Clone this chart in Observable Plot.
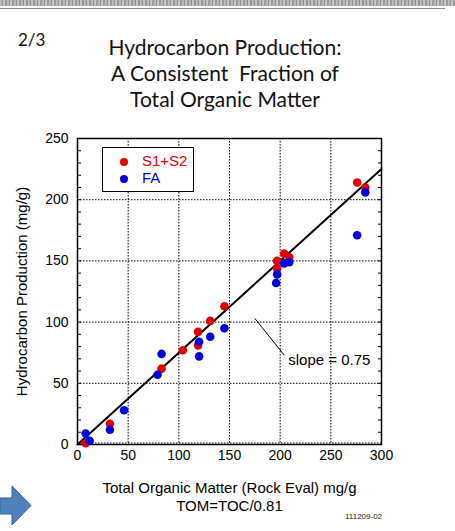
<!DOCTYPE html>
<html>
<head>
<meta charset="utf-8">
<script src="https://cdn.jsdelivr.net/npm/d3@7"></script>
<script src="https://cdn.jsdelivr.net/npm/@observablehq/plot@0.6"></script>
<style>
  html, body { margin: 0; padding: 0; background: white; }
  #page { position: relative; width: 455px; height: 531px; overflow: hidden; background: white; }
  #band { position: absolute; left: 0; top: 0; width: 455px; height: 6px;
    background: repeating-linear-gradient(90deg, #b8b8b8 0 2px, #8e8e8e 2px 3px, #c4c4c4 3px 5px, #9a9a9a 5px 7px); }
  #rule { position: absolute; left: 0; top: 8px; width: 445px; height: 1px; background: #8a8a8a; }
  #pagenum { position: absolute; left: 18px; top: 29px; font: 17px Lato, "Open Sans", sans-serif; color: #111; }
  #title { position: absolute; left: 0; top: 34px; width: 450px; text-align: center;
    font: 21px Lato, "Open Sans", sans-serif; line-height: 26px; color: #111; }
  #chart { position: absolute; left: 0; top: 120px; }
  #legend { position: absolute; left: 102px; top: 147px; width: 90px; height: 43px;
    border: 1px solid black; background: white; font: 15px "Liberation Sans", Arial, sans-serif; }
  .li { position: absolute; left: 0; height: 17px; }
  .sw { position: absolute; left: 17px; width: 8px; height: 8px; border-radius: 50%; }
  .lt { position: absolute; left: 39px; top: -1px; white-space: nowrap; }
  #code { position: absolute; left: 345px; top: 512px; font: 8px "Liberation Sans", Arial, sans-serif; color: #222; }
  #arrow { position: absolute; left: 0; top: 484px; }
</style>
</head>
<body>
<div id="page">
  <div id="band"></div>
  <div id="rule"></div>
  <div id="pagenum">2/3</div>
  <div id="title">Hydrocarbon Production:<br>A Consistent&nbsp; Fraction of<br>Total Organic Matter</div>
  <div id="chart"></div>
  <div id="legend"></div>
  <div id="code">111209-02</div>
  <svg id="arrow" width="40" height="47">
    <path d="M0,14 L12,14 L12,2 L31,21.5 L12,41 L12,30 L0,30 Z" fill="#4f81bd" stroke="#3a6395" stroke-width="1"/>
  </svg>
</div>
<script>
// ---- data ----
const seriesNames = ["S1+S2", "FA"];
const seriesColors = ["#e00000", "#0000dd"];

const s1s2X = [8, 32, 83, 104, 119, 119, 131, 145, 197, 197, 204, 209, 276, 284];
const s1s2Y = [1, 17, 62, 77, 81, 92, 101, 113, 144, 150, 156, 153, 214, 210];

const faX = [8, 12, 32, 46, 79, 83, 120, 120, 131, 145, 196, 197, 204, 209, 276, 284];
const faY = [9, 3, 12, 28, 57, 74, 72, 84, 88, 95, 132, 139, 148, 149, 171, 206];

const slope = 0.75;
const fitXRange = [0, 300];

const xTicks = [0, 50, 100, 150, 200, 250, 300];
const yTicks = [0, 50, 100, 150, 200, 250];
const xGridTicks = [50, 100, 150, 200, 250];
const yGridTicks = [50, 100, 150, 200];
const yMinorTicks = d3.range(0, 251, 10);

const xLabel = "Total Organic Matter (Rock Eval) mg/g";
const xLabel2 = "TOM=TOC/0.81";
const yLabel = "Hydrocarbon Production (mg/g)";
const slopeNote = "slope = 0.75";
// annotation anchor (data units): leader line from line to note
const leaderFrom = [175, 103];
const leaderTo = [204, 73];
const noteAt = [208, 69];

// ---- build tables ----
const s1s2 = s1s2X.map((x, i) => ({x, y: s1s2Y[i]}));
const fa = faX.map((x, i) => ({x, y: faY[i]}));
const fit = fitXRange.map(x => ({x, y: slope * x}));

const chart = Plot.plot({
  width: 455,
  height: 411,
  marginLeft: 77,
  marginRight: 74,
  marginTop: 18,
  marginBottom: 87,
  x: {domain: [0, 300], label: null},
  y: {domain: [0, 250], label: null},
  style: {fontFamily: "'Liberation Sans', Arial, sans-serif", fontSize: "14px", color: "black", background: "white", overflow: "visible"},
  marks: [
    Plot.gridX(xGridTicks, {stroke: "black", strokeOpacity: 1, strokeWidth: 1, strokeDasharray: "1.5,1.5"}),
    Plot.gridY(yGridTicks, {stroke: "black", strokeOpacity: 1, strokeWidth: 1, strokeDasharray: "1.5,1.5"}),
    Plot.gridY([0], {stroke: "black", strokeOpacity: 1, strokeWidth: 1, strokeDasharray: "1.5,1.5", dy: -1.5}),
    Plot.axisY(yMinorTicks, {anchor: "left", tickSize: -4, tickFormat: () => "", label: null}),
    Plot.axisY(yMinorTicks, {anchor: "right", tickSize: -4, tickFormat: () => "", label: null}),
    Plot.axisY(yTicks, {anchor: "left", tickSize: 0, tickPadding: 9, fontSize: 14, label: null}),
    Plot.axisX(xTicks, {anchor: "bottom", tickSize: 0, tickPadding: 6, fontSize: 14, label: null}),
    Plot.frame({stroke: "black", strokeWidth: 1.5}),
    Plot.line(fit, {x: "x", y: "y", stroke: "black", strokeWidth: 2}),
    Plot.link([{x1: leaderFrom[0], y1: leaderFrom[1], x2: leaderTo[0], y2: leaderTo[1]}],
      {x1: "x1", y1: "y1", x2: "x2", y2: "y2", stroke: "black", strokeWidth: 1}),
    Plot.text([slopeNote], {x: noteAt[0], y: noteAt[1], text: d => d, textAnchor: "start", fontSize: 15, fill: "black"}),
    Plot.dot(s1s2, {x: "x", y: "y", r: 4.3, fill: seriesColors[0], stroke: "none"}),
    Plot.dot(fa, {x: "x", y: "y", r: 4.3, fill: seriesColors[1], stroke: "none"}),
    Plot.text([yLabel], {frameAnchor: "left", textAnchor: "middle", text: d => d, rotate: -90, dx: -55, fontSize: 15, fill: "black"}),
    Plot.text([xLabel], {frameAnchor: "bottom", lineAnchor: "middle", text: d => d, dy: 44, fontSize: 15, fill: "black"}),
    Plot.text([xLabel2], {frameAnchor: "bottom", lineAnchor: "middle", text: d => d, dy: 62, fontSize: 15, fill: "black"})
  ]
});
document.getElementById("chart").appendChild(chart);

// legend
const legend = document.getElementById("legend");
seriesNames.forEach((name, i) => {
  const row = document.createElement("div");
  row.className = "li";
  row.style.top = (5 + i * 17) + "px";
  row.style.width = "100%";
  const sw = document.createElement("div");
  sw.className = "sw";
  sw.style.top = "5px";
  sw.style.background = seriesColors[i];
  const lt = document.createElement("div");
  lt.className = "lt";
  lt.style.color = seriesColors[i];
  lt.textContent = name;
  row.appendChild(sw);
  row.appendChild(lt);
  legend.appendChild(row);
});
</script>
</body>
</html>
